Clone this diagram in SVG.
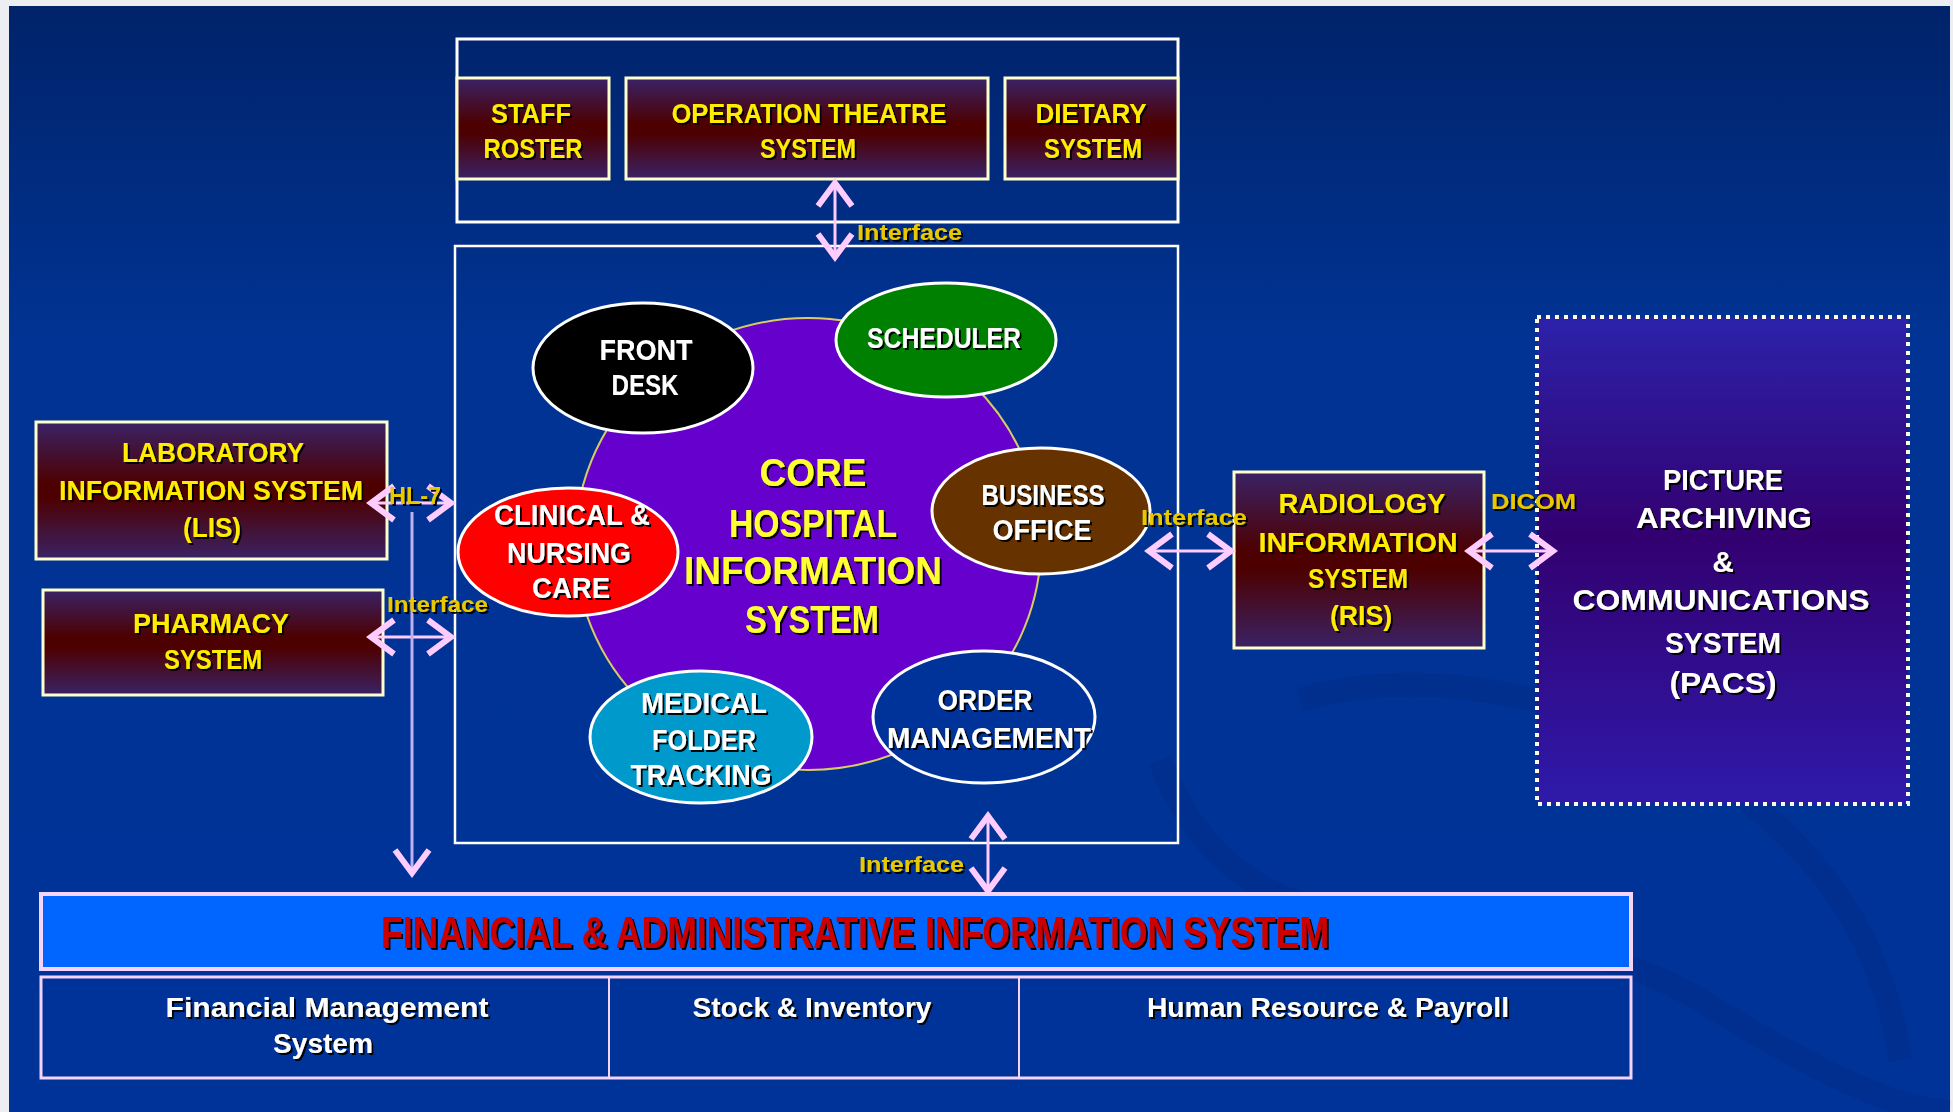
<svg xmlns="http://www.w3.org/2000/svg" width="1953" height="1112" viewBox="0 0 1953 1112">
<defs>
<linearGradient id="bg" x1="0" y1="0" x2="0" y2="1">
<stop offset="0" stop-color="#00236a"/><stop offset="0.3" stop-color="#003393"/><stop offset="1" stop-color="#003399"/>
</linearGradient>
<linearGradient id="box" x1="0" y1="0" x2="0" y2="1">
<stop offset="0" stop-color="#3a2266"/><stop offset="0.45" stop-color="#4d0000"/><stop offset="0.55" stop-color="#4d0000"/><stop offset="1" stop-color="#3a2266"/>
</linearGradient>
<linearGradient id="pacs" x1="0" y1="0" x2="0" y2="1">
<stop offset="0" stop-color="#2c22aa"/><stop offset="0.45" stop-color="#330070"/><stop offset="1" stop-color="#2e1aaa"/>
</linearGradient>
<filter id="sh" x="-10%" y="-30%" width="120%" height="160%">
<feDropShadow dx="2" dy="2" stdDeviation="0.6" flood-color="#000" flood-opacity="0.95"/>
</filter>
<marker id="ah" markerUnits="userSpaceOnUse" markerWidth="32" markerHeight="42" viewBox="0 0 32 42" refX="27" refY="21" orient="auto-start-reverse">
<path d="M4,4 L27,21 L4,38" fill="none" stroke="#ffccff" stroke-width="6" stroke-linejoin="miter"/>
</marker>
</defs>
<style>
.t{font-family:"Liberation Sans","Arial",sans-serif;font-weight:bold;text-anchor:middle;filter:url(#sh)}
.y{fill:#ffec00}
.w{fill:#ffffff}
.cy{fill:#ffff33}
.lab{font-family:"Liberation Sans","Arial",sans-serif;font-weight:bold;fill:#e8c800;filter:url(#sh)}
.ybox{fill:url(#box);stroke:#ffffcc;stroke-width:3}
.el{stroke:#ffffff;stroke-width:3}
.cn{stroke:#ffccff;stroke-width:3;fill:none}
</style>
<rect x="0" y="0" width="1953" height="1112" fill="#eceef2"/>
<rect x="9" y="6" width="1941" height="1106" fill="url(#bg)"/>
<g opacity="0.14" fill="none" stroke="#001a66" stroke-width="24">
<path d="M1160,760 C1250,1000 1500,880 1700,1000 C1830,1080 1900,1110 1950,1112"/>
<path d="M1300,700 C1500,640 1860,760 1900,1060"/>
</g>

<g id="top-container"><rect x="457" y="39" width="721" height="183" fill="none" stroke="#ffffff" stroke-width="3"/></g>
<g id="staff-roster"><rect class="ybox" x="457" y="78" width="152" height="101"/>
<text class="t y" font-size="28" x="531" y="123" textLength="80" lengthAdjust="spacingAndGlyphs">STAFF</text>
<text class="t y" font-size="28" x="533" y="158" textLength="99" lengthAdjust="spacingAndGlyphs">ROSTER</text></g>
<g id="operation-theatre"><rect class="ybox" x="626" y="78" width="362" height="101"/>
<text class="t y" font-size="28" x="809" y="123" textLength="275" lengthAdjust="spacingAndGlyphs">OPERATION THEATRE</text>
<text class="t y" font-size="28" x="808" y="158" textLength="96" lengthAdjust="spacingAndGlyphs">SYSTEM</text></g>
<g id="dietary"><rect class="ybox" x="1005" y="78" width="173" height="101"/>
<text class="t y" font-size="28" x="1091" y="123" textLength="111" lengthAdjust="spacingAndGlyphs">DIETARY</text>
<text class="t y" font-size="28" x="1093" y="158" textLength="98" lengthAdjust="spacingAndGlyphs">SYSTEM</text></g>

<g id="core-container"><rect x="455" y="246" width="723" height="597" fill="none" stroke="#ffffff" stroke-width="2.5"/></g>
<g id="core"><ellipse cx="808" cy="544" rx="233" ry="226" fill="#6600cc" stroke="#d8cc66" stroke-width="2"/>
<text class="t cy" font-size="39" x="813" y="486" textLength="107" lengthAdjust="spacingAndGlyphs">CORE</text>
<text class="t cy" font-size="39" x="813" y="537" textLength="168" lengthAdjust="spacingAndGlyphs">HOSPITAL</text>
<text class="t cy" font-size="39" x="813" y="584" textLength="258" lengthAdjust="spacingAndGlyphs">INFORMATION</text>
<text class="t cy" font-size="39" x="812" y="633" textLength="134" lengthAdjust="spacingAndGlyphs">SYSTEM</text></g>
<g id="front-desk"><ellipse class="el" cx="643" cy="368" rx="110" ry="65" fill="#000000"/>
<text class="t w" font-size="29" x="646" y="360" textLength="93" lengthAdjust="spacingAndGlyphs">FRONT</text>
<text class="t w" font-size="29" x="645" y="395" textLength="67" lengthAdjust="spacingAndGlyphs">DESK</text></g>
<g id="scheduler"><ellipse class="el" cx="946" cy="340" rx="110" ry="57" fill="#008000"/>
<text class="t w" font-size="29" x="944" y="348" textLength="154" lengthAdjust="spacingAndGlyphs">SCHEDULER</text></g>
<g id="business-office"><ellipse class="el" cx="1041" cy="511" rx="109" ry="63" fill="#663300"/>
<text class="t w" font-size="29" x="1043" y="505" textLength="123" lengthAdjust="spacingAndGlyphs">BUSINESS</text>
<text class="t w" font-size="29" x="1042" y="540" textLength="99" lengthAdjust="spacingAndGlyphs">OFFICE</text></g>
<g id="clinical-nursing"><ellipse class="el" cx="568" cy="552" rx="110" ry="64" fill="#ff0000"/>
<text class="t w" font-size="29" x="572" y="525" textLength="156" lengthAdjust="spacingAndGlyphs">CLINICAL &amp;</text>
<text class="t w" font-size="29" x="569" y="563" textLength="124" lengthAdjust="spacingAndGlyphs">NURSING</text>
<text class="t w" font-size="29" x="571" y="598" textLength="78" lengthAdjust="spacingAndGlyphs">CARE</text></g>
<g id="medical-folder"><ellipse class="el" cx="701" cy="737" rx="111" ry="66" fill="#0099cc"/>
<text class="t w" font-size="29" x="704" y="713" textLength="126" lengthAdjust="spacingAndGlyphs">MEDICAL</text>
<text class="t w" font-size="29" x="704" y="750" textLength="104" lengthAdjust="spacingAndGlyphs">FOLDER</text>
<text class="t w" font-size="29" x="701" y="785" textLength="141" lengthAdjust="spacingAndGlyphs">TRACKING</text></g>
<g id="order-management"><ellipse class="el" cx="984" cy="717" rx="111" ry="66" fill="#003399"/>
<text class="t w" font-size="29" x="985" y="710" textLength="95" lengthAdjust="spacingAndGlyphs">ORDER</text>
<text class="t w" font-size="29" x="989" y="748" textLength="204" lengthAdjust="spacingAndGlyphs">MANAGEMENT</text></g>

<g id="lis"><rect class="ybox" x="36" y="422" width="351" height="137"/>
<text class="t y" font-size="28" x="213" y="462" textLength="182" lengthAdjust="spacingAndGlyphs">LABORATORY</text>
<text class="t y" font-size="28" x="211" y="500" textLength="304" lengthAdjust="spacingAndGlyphs">INFORMATION SYSTEM</text>
<text class="t y" font-size="28" x="212" y="537" textLength="58" lengthAdjust="spacingAndGlyphs">(LIS)</text></g>
<g id="pharmacy"><rect class="ybox" x="43" y="590" width="340" height="105"/>
<text class="t y" font-size="28" x="211" y="633" textLength="156" lengthAdjust="spacingAndGlyphs">PHARMACY</text>
<text class="t y" font-size="28" x="213" y="669" textLength="98" lengthAdjust="spacingAndGlyphs">SYSTEM</text></g>

<g id="ris"><rect class="ybox" x="1234" y="472" width="250" height="176"/>
<text class="t y" font-size="28" x="1362" y="513" textLength="167" lengthAdjust="spacingAndGlyphs">RADIOLOGY</text>
<text class="t y" font-size="28" x="1358" y="552" textLength="199" lengthAdjust="spacingAndGlyphs">INFORMATION</text>
<text class="t y" font-size="28" x="1358" y="588" textLength="100" lengthAdjust="spacingAndGlyphs">SYSTEM</text>
<text class="t y" font-size="28" x="1361" y="625" textLength="62" lengthAdjust="spacingAndGlyphs">(RIS)</text></g>

<g id="pacs-node"><rect x="1537" y="317" width="371" height="487" fill="url(#pacs)" stroke="#fffbe0" stroke-width="4" stroke-dasharray="4 5"/>
<text class="t w" font-size="30" x="1723" y="490" textLength="120" lengthAdjust="spacingAndGlyphs">PICTURE</text>
<text class="t w" font-size="30" x="1724" y="528" textLength="176" lengthAdjust="spacingAndGlyphs">ARCHIVING</text>
<text class="t w" font-size="30" x="1723" y="572">&amp;</text>
<text class="t w" font-size="30" x="1721" y="610" textLength="297" lengthAdjust="spacingAndGlyphs">COMMUNICATIONS</text>
<text class="t w" font-size="30" x="1723" y="653" textLength="116" lengthAdjust="spacingAndGlyphs">SYSTEM</text>
<text class="t w" font-size="30" x="1723" y="693" textLength="107" lengthAdjust="spacingAndGlyphs">(PACS)</text></g>

<g id="fais"><rect x="41" y="894" width="1590" height="75" fill="#0066ff" stroke="#f4d4fa" stroke-width="4"/>
<text class="t" fill="#cc0000" font-size="44" x="855" y="948" textLength="948" lengthAdjust="spacingAndGlyphs">FINANCIAL &amp; ADMINISTRATIVE INFORMATION SYSTEM</text></g>
<g id="fais-modules">
<rect x="41" y="977" width="1590" height="101" fill="#003399" stroke="#f4d4fa" stroke-width="3"/>
<line x1="609" y1="977" x2="609" y2="1078" stroke="#f4d4fa" stroke-width="2"/>
<line x1="1019" y1="977" x2="1019" y2="1078" stroke="#f4d4fa" stroke-width="2"/>
<text class="t w" font-size="27" x="327" y="1017" textLength="323" lengthAdjust="spacingAndGlyphs">Financial Management</text>
<text class="t w" font-size="27" x="323" y="1053" textLength="100" lengthAdjust="spacingAndGlyphs">System</text>
<text class="t w" font-size="27" x="812" y="1017" textLength="239" lengthAdjust="spacingAndGlyphs">Stock &amp; Inventory</text>
<text class="t w" font-size="27" x="1328" y="1017" textLength="362" lengthAdjust="spacingAndGlyphs">Human Resource &amp; Payroll</text>
</g>

<g id="connectors">
<line class="cn" x1="835" y1="183" x2="835" y2="257" marker-start="url(#ah)" marker-end="url(#ah)"/>
<line class="cn" x1="988" y1="816" x2="988" y2="891" marker-start="url(#ah)" marker-end="url(#ah)"/>
<line class="cn" x1="371" y1="503" x2="451" y2="503" marker-start="url(#ah)" marker-end="url(#ah)"/>
<line class="cn" x1="371" y1="637" x2="451" y2="637" marker-start="url(#ah)" marker-end="url(#ah)"/>
<line x1="412" y1="512" x2="412" y2="873" stroke="#c0b0f0" stroke-width="3" marker-end="url(#ah)"/>
<line class="cn" x1="1149" y1="551" x2="1231" y2="551" marker-start="url(#ah)" marker-end="url(#ah)"/>
<line class="cn" x1="1469" y1="551" x2="1553" y2="551" marker-start="url(#ah)" marker-end="url(#ah)"/>
<text class="lab" font-size="22" x="857" y="240" textLength="105" lengthAdjust="spacingAndGlyphs">Interface</text>
<text class="lab" font-size="22" x="859" y="872" textLength="105" lengthAdjust="spacingAndGlyphs">Interface</text>
<text class="lab" font-size="22" x="387" y="612" textLength="101" lengthAdjust="spacingAndGlyphs">Interface</text>
<text class="lab" font-size="22" x="1141" y="525" textLength="106" lengthAdjust="spacingAndGlyphs">Interface</text>
<text class="lab" font-size="23" x="389" y="504" textLength="52" lengthAdjust="spacingAndGlyphs">HL-7</text>
<text class="lab" font-size="22" x="1491" y="509" textLength="85" lengthAdjust="spacingAndGlyphs">DICOM</text>
</g>
</svg>
